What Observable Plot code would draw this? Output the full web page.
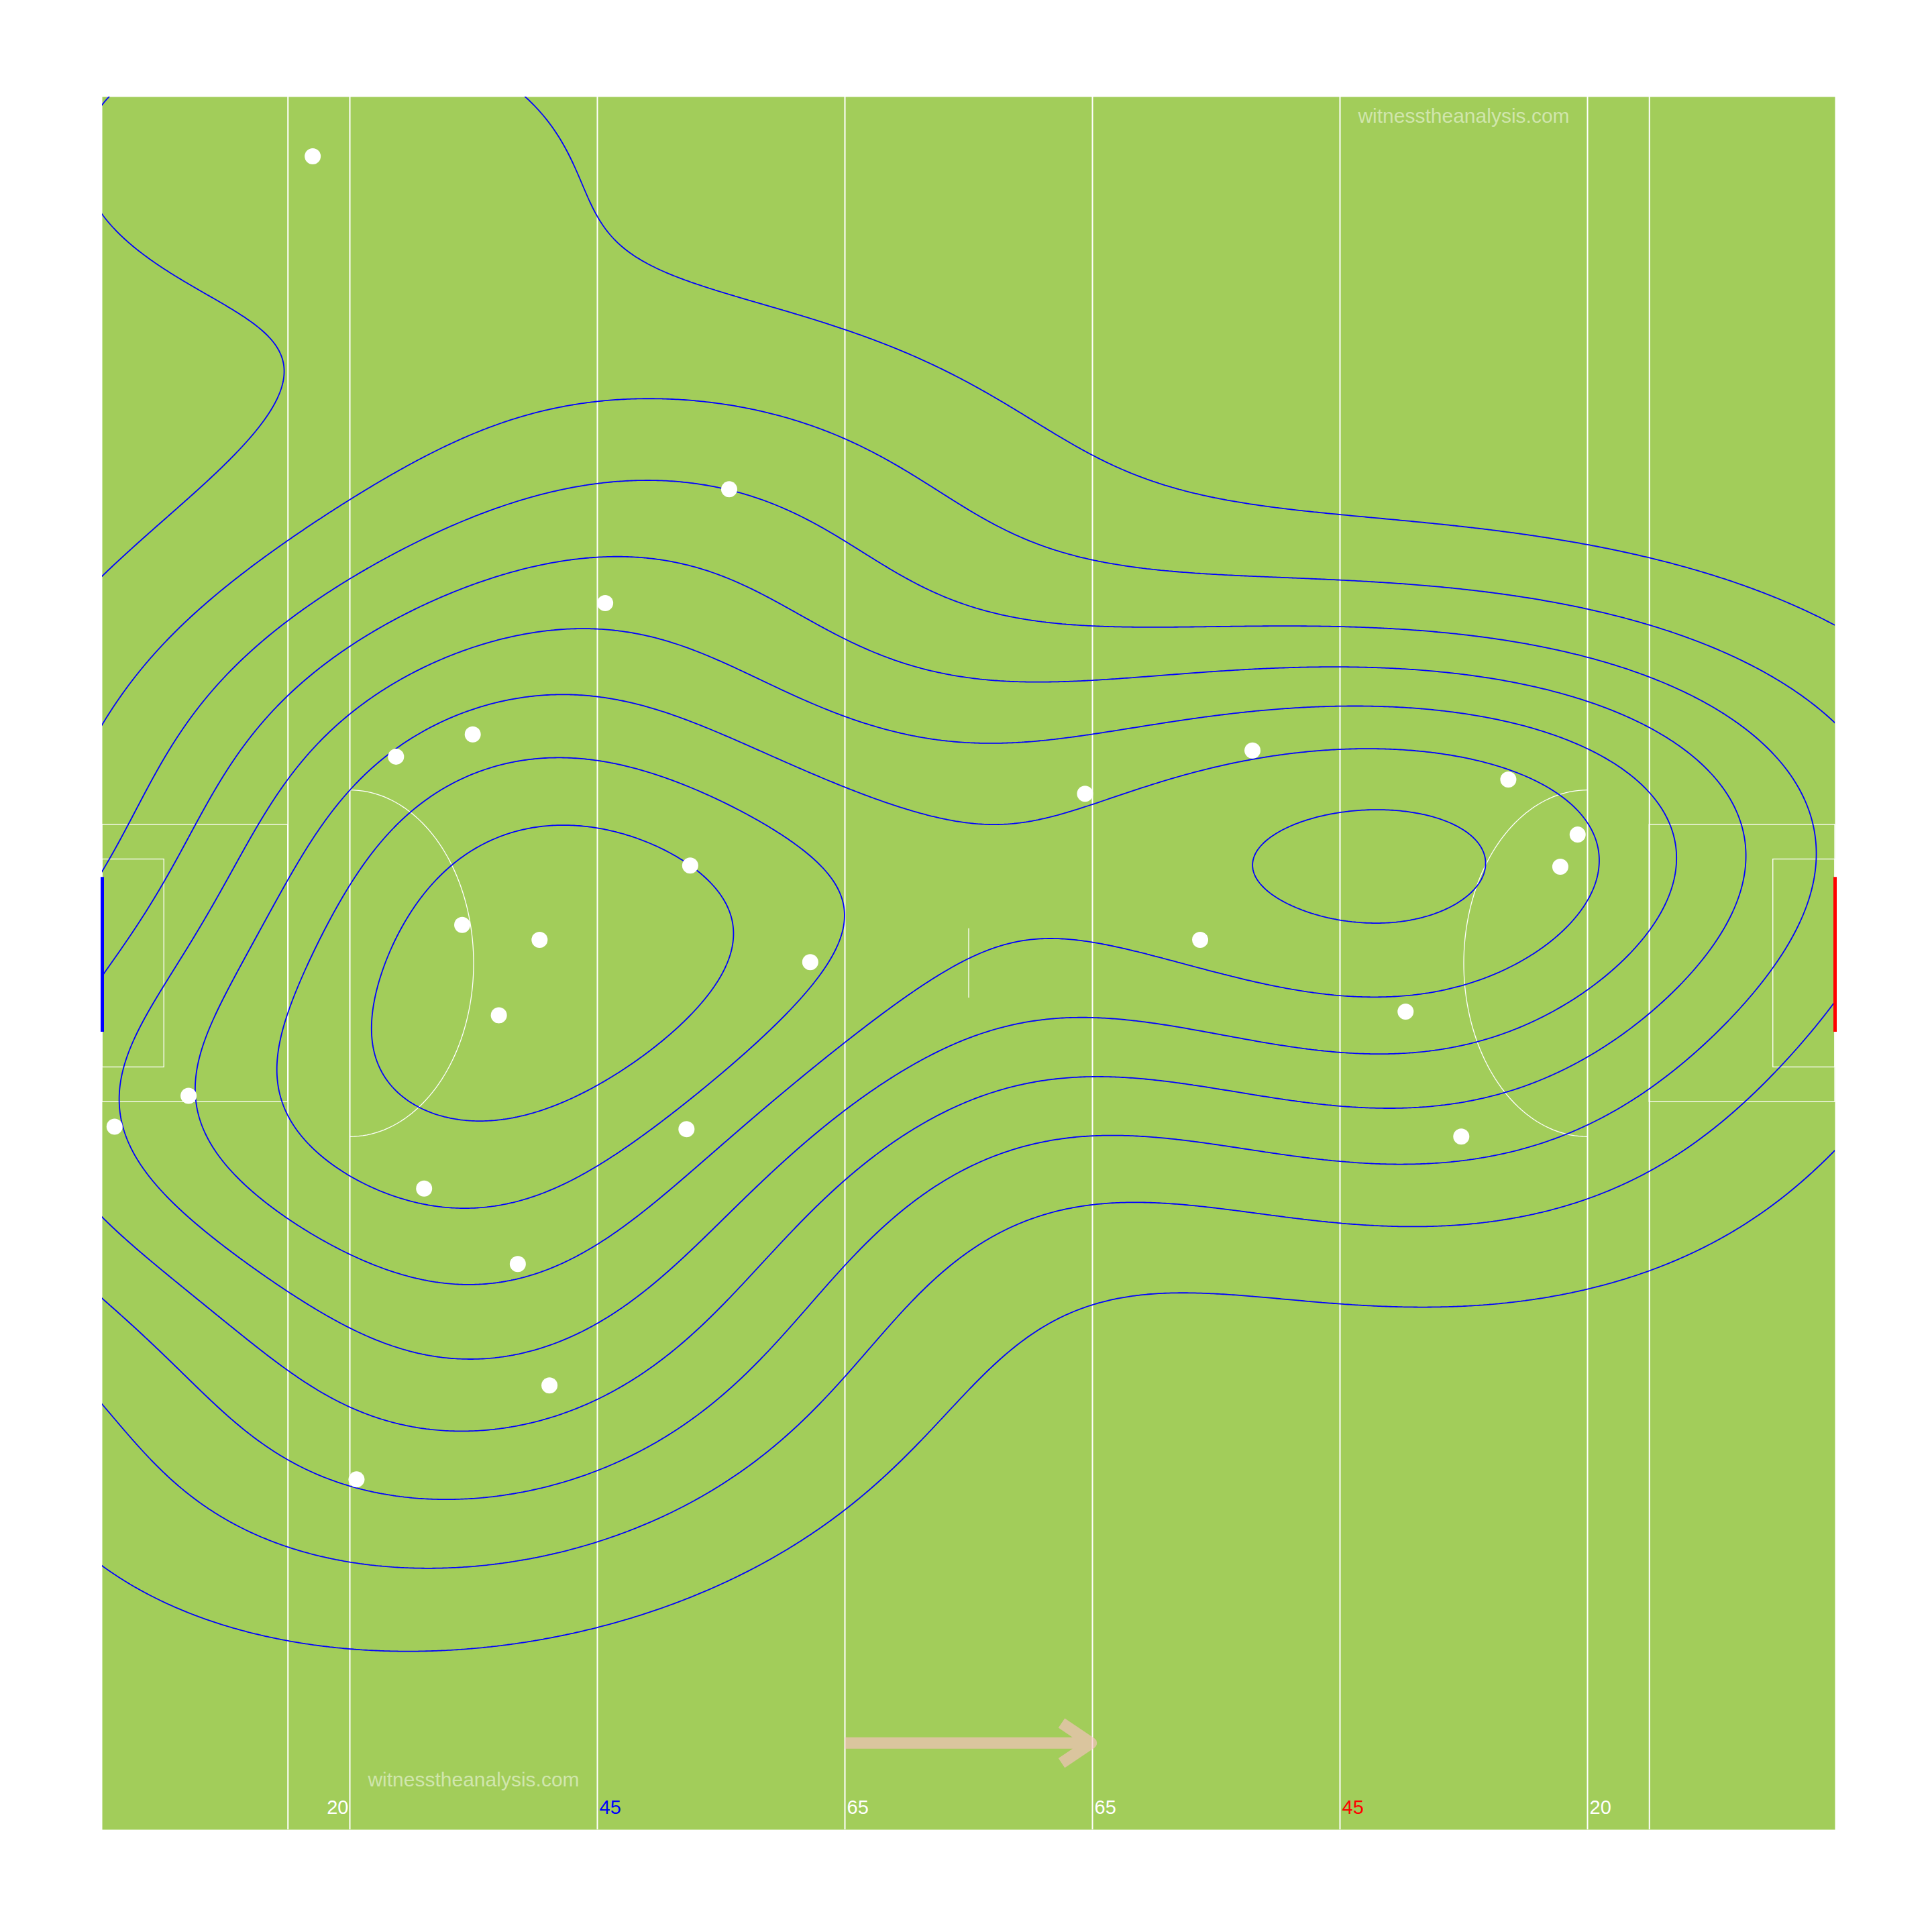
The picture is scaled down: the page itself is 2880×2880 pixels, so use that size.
<!DOCTYPE html>
<html>
<head>
<meta charset="utf-8">
<script src="https://cdn.jsdelivr.net/npm/d3@7"></script>
<script src="https://cdn.jsdelivr.net/npm/@observablehq/plot@0.6"></script>
<style>
  body { margin: 0; background: white; }
</style>
</head>
<body>
<div id="chart"></div>
<script>
// shot positions (pitch units, x along the pitch, y up)
const shotX = [17.0, 50.65, 40.63, 23.73, 29.93, 79.4, 92.93, 113.6, 119.2, 117.8, 47.5, 29.08, 35.33,
               57.2, 32.04, 88.7, 105.3, 6.97, 0.99, 47.2, 109.8, 26.0, 33.57, 36.13, 20.54];
const shotY = [135.2, 108.3, 99.1, 86.7, 88.5, 83.7, 87.2, 84.85, 80.4, 77.8, 77.9, 73.1, 71.9,
               70.1, 65.8, 71.9, 66.1, 59.3, 56.8, 56.6, 56.0, 51.8, 45.7, 35.9, 28.3];

// pitch markings
const pitchLength = 140;
const pitchWidth = 140;
const lineX = [15, 20, 40, 60, 80, 100, 120, 125];
const boxes = [
  {x1: 0, x2: 15, y1: 58.8, y2: 81.2},
  {x1: 0, x2: 5, y1: 61.6, y2: 78.4},
  {x1: 125, x2: 140, y1: 58.8, y2: 81.2},
  {x1: 135, x2: 140, y1: 61.6, y2: 78.4}
];
const goals = [
  {x: 0, y1: 64.45, y2: 76.95, color: "blue"},
  {x: 140, y1: 64.45, y2: 76.95, color: "red"}
];
const arcCentres = [{cx: 20, dir: 1}, {cx: 120, dir: -1}];
const arcRx = 10, arcRy = 14;

// line labels along the bottom
const labelX = [20, 40, 60, 80, 100, 120];
const labelText = ["20", "45", "65", "65", "45", "20"];
const labelColor = ["white", "blue", "white", "white", "red", "white"];
const labelAnchor = ["end", "start", "start", "start", "start", "start"];

const watermarks = [{x: 30, y: 4}, {x: 110, y: 138.45}];
const direction = [{x1: 60, x2: 79.9, y1: 7, y2: 7}];

// spacing of the density contour levels
const densityStep = 1.77e-5;

// --- build tables
const shots = shotX.map((x, i) => ({x, y: shotY[i]}));
const labels = labelX.map((x, i) => ({x, text: labelText[i], color: labelColor[i], anchor: labelAnchor[i]}));
const arcs = arcCentres.flatMap(a => d3.range(-90, 91, 2).map(t => ({
  id: a.cx,
  x: a.cx + a.dir * arcRx * Math.cos(t * Math.PI / 180),
  y: pitchWidth / 2 + arcRy * Math.sin(t * Math.PI / 180)
})));

// 2d kernel density like MASS::kde2d with bandwidth.nrd
const nrd = v => {
  const s = d3.sort(v);
  const iqr = d3.quantile(s, 0.75) - d3.quantile(s, 0.25);
  return 4 * 1.06 * Math.min(d3.deviation(v), iqr / 1.34) * Math.pow(v.length, -0.2);
};
const hx = nrd(shotX) / 4;
const hy = nrd(shotY) / 4;
const kde = (x, y) => {
  let s = 0;
  for (let i = 0; i < shotX.length; i++) {
    const u = (x - shotX[i]) / hx, w = (y - shotY[i]) / hy;
    s += Math.exp(-0.5 * (u * u + w * w));
  }
  return s / (shotX.length * 2 * Math.PI * hx * hy);
};

let chart = Plot.plot({
  width: 2880,
  height: 2880,
  marginLeft: 152,
  marginRight: 145,
  marginTop: 144,
  marginBottom: 153,
  x: { domain: [0, pitchLength], axis: null },
  y: { domain: [0, pitchWidth], axis: null },
  color: { type: "identity" },
  style: { background: "white" },
  marks: [
    Plot.frame({ fill: "#A2CD5A", stroke: "none" }),
    Plot.ruleX(lineX, { y1: 0, y2: pitchWidth, stroke: "white", strokeWidth: 2 }),
    Plot.rect(boxes, { x1: "x1", x2: "x2", y1: "y1", y2: "y2", fill: "none", stroke: "white", strokeWidth: 1.3 }),
    Plot.line(arcs, { x: "x", y: "y", z: "id", stroke: "white", strokeWidth: 1.3 }),
    Plot.ruleX([pitchLength / 2], { y1: 67.2, y2: 72.8, stroke: "white", strokeWidth: 1.3 }),
    Plot.contour({
      x1: -10, y1: -10, x2: pitchLength + 10, y2: pitchWidth + 10,
      value: kde,
      pixelSize: 3,
      thresholds: (V, lo, hi) => d3.range(densityStep, hi, densityStep),
      fill: "none",
      stroke: "blue",
      strokeWidth: 1.8,
      clip: true
    }),
    Plot.dot(shots, { x: "x", y: "y", r: 12, fill: "white", stroke: "none" }),
    Plot.ruleX(goals, { x: "x", y1: "y1", y2: "y2", stroke: "color", strokeWidth: 5 }),
    Plot.text(labels.filter(d => d.anchor == "end"), {
      x: "x", y: 1.75, text: "text", fill: "color", textAnchor: "end", dx: -2,
      fontSize: 29, fontFamily: "Liberation Sans, Arial, sans-serif"
    }),
    Plot.text(labels.filter(d => d.anchor == "start"), {
      x: "x", y: 1.75, text: "text", fill: "color", textAnchor: "start", dx: 3,
      fontSize: 29, fontFamily: "Liberation Sans, Arial, sans-serif"
    }),
    Plot.text(watermarks, {
      x: "x", y: "y", text: () => "witnesstheanalysis.com", fill: "white", fillOpacity: 0.5,
      fontSize: 30, fontFamily: "Liberation Sans, Arial, sans-serif"
    }),
    Plot.arrow(direction, {
      x1: "x1", y1: "y1", x2: "x2", y2: "y2",
      stroke: "pink", strokeOpacity: 0.6, strokeWidth: 17, headLength: 4.7, headAngle: 68,
      strokeLinecap: "butt", strokeLinejoin: "round"
    })
  ]
})

d3.select('#chart').append(() => chart)
</script>
</body>
</html>
